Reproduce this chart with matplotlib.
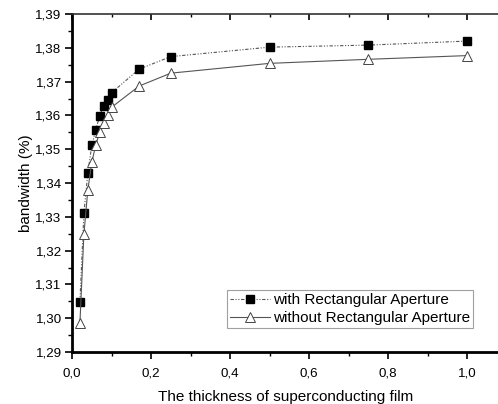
import matplotlib
matplotlib.use("agg")
import matplotlib.pyplot as plt
from matplotlib.ticker import FuncFormatter, MultipleLocator

plt.rcParams["font.family"] = ["Liberation Sans", "DejaVu Sans"]

thickness = [0.02, 0.03, 0.04, 0.05, 0.06, 0.07, 0.08, 0.09, 0.10, 0.17, 0.25, 0.50, 0.75, 1.00]
with_aperture = [1.3048, 1.3310, 1.3429, 1.3511, 1.3557, 1.3599, 1.3628, 1.3646, 1.3667,
                 1.3737, 1.3774, 1.3802, 1.3808, 1.3820]
without_aperture = [1.2985, 1.3248, 1.3379, 1.3461, 1.3512, 1.3550, 1.3577, 1.3601, 1.3624,
                    1.3687, 1.3725, 1.3754, 1.3766, 1.3777]

fig = plt.figure(figsize=(4.98, 4.04), dpi=100)
ax = fig.add_axes([0.1446, 0.1287, 0.857, 0.8366])

ax.plot(thickness, with_aperture, color="#555555", lw=0.8, ls=(0, (3, 1.5, 1, 1.5, 1, 1.5)),
        marker="s", ms=5.2, mfc="black", mec="black", label="with Rectangular Aperture")
ax.plot(thickness, without_aperture, color="#555555", lw=0.8, ls="-",
        marker="^", ms=6.8, mfc="white", mec="#444444", mew=0.7, label="without Rectangular Aperture")

ax.set_xlim(0, 1.08)
ax.set_ylim(1.29, 1.39)
ax.xaxis.set_major_locator(MultipleLocator(0.2))
ax.xaxis.set_minor_locator(MultipleLocator(0.1))
ax.yaxis.set_major_locator(MultipleLocator(0.01))
ax.yaxis.set_minor_locator(MultipleLocator(0.005))

comma = lambda fmt: FuncFormatter(lambda v, p: (fmt % v).replace(".", ","))
ax.xaxis.set_major_formatter(comma("%.1f"))
ax.yaxis.set_major_formatter(comma("%.2f"))

ax.tick_params(which="both", direction="out", labelsize=9.6, colors="black")
ax.tick_params(which="major", length=5, width=1.2)
ax.tick_params(which="minor", length=2.8, width=1.0)
ax.tick_params(axis="x", which="both", top=True, pad=6)
ax.tick_params(axis="y", which="both", pad=2.5)
# top ticks point into the plot
for t in ax.xaxis.get_major_ticks():
    t.tick2line.set_marker(3)
    t.tick2line.set_markersize(4.5)
for t in ax.xaxis.get_minor_ticks():
    t.tick2line.set_marker(3)
    t.tick2line.set_markersize(2)

for side in ("left", "bottom"):
    ax.spines[side].set_linewidth(2)
ax.spines["top"].set_linewidth(1.2)
ax.spines["top"].set_color("#333333")
ax.spines["right"].set_visible(False)

ax.set_xlabel("The thickness of superconducting film", fontsize=11, labelpad=8)
ax.set_ylabel("bandwidth (%)", fontsize=11, labelpad=1.5)

leg = ax.legend(loc="lower right", bbox_to_anchor=(0.5, 0.071, 0.44, 0.1), fontsize=11,
                frameon=True, fancybox=False, borderpad=0.2, handlelength=2.6,
                handletextpad=0.2, labelspacing=0.25, borderaxespad=0)
leg.get_frame().set_edgecolor("#888888")
leg.get_frame().set_linewidth(0.8)

fig.savefig("out.png", dpi=100)
